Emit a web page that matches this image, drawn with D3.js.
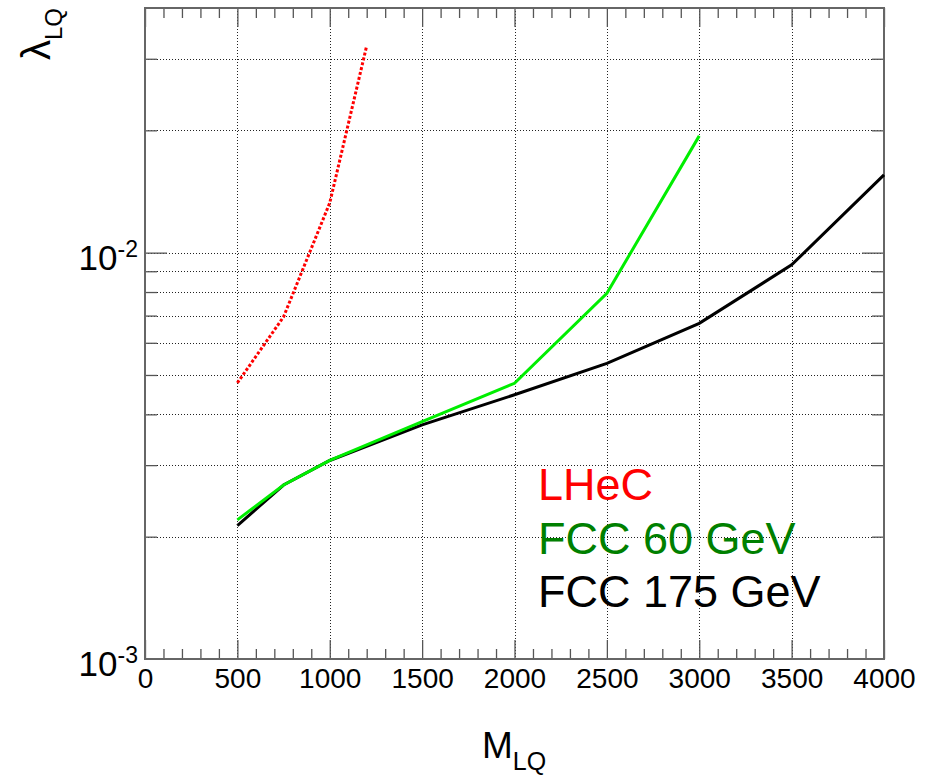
<!DOCTYPE html>
<html>
<head>
<meta charset="utf-8">
<script src="https://cdn.jsdelivr.net/npm/d3@7"></script>
<style>
  body { margin: 0; background: #fff; }
  svg { font-family: "Liberation Sans", Arial, sans-serif; }
</style>
</head>
<body>
<script>
// Størrelse på SVG
const w = 935;
const h = 776;

// Data
const massLHeC = [500, 750, 1000, 1200];
const lambdaLHeC = [0.00478, 0.00695, 0.01326, 0.0323];

const mass60 = [500, 750, 1000, 1500, 2000, 2500, 3000];
const lambda60 = [0.0022, 0.00268, 0.00308, 0.00384, 0.00477, 0.00794, 0.01938];

const mass175 = [500, 750, 1000, 1500, 2000, 2500, 3000, 3500, 4000];
const lambda175 = [0.00213, 0.00268, 0.00308, 0.00377, 0.00447, 0.00534, 0.0067, 0.00933, 0.01554];

const xTicks = [0, 500, 1000, 1500, 2000, 2500, 3000, 3500, 4000];
const yLabels = [
  { v: 0.01, base: "10", exp: "-2" },
  { v: 0.001, base: "10", exp: "-3" },
];
const legendNames = ["LHeC", "FCC 60 GeV", "FCC 175 GeV"];

// Plot-område
const pLeft = 145, pRight = 884, pTop = 8, pBottom = 659;

const svg = d3.select("body").append("svg").attr("width", w).attr("height", h);

const xScale = d3.scaleLinear().domain([0, 4000]).range([pLeft, pRight]);
const yScale = d3.scaleLog().domain([0.001, 0.04]).range([pBottom, pTop]);

// minor ticks
const xMinor = d3.range(0, 4001, 100).filter(d => d % 500 !== 0);
const yMinor = [];
[0.001, 0.01].forEach(dec => {
  for (let k = 2; k <= 9; k++) {
    const v = dec * k;
    if (v < 0.04) yMinor.push(v);
  }
});
const yGrid = yMinor.concat([0.01]);

// Gitter (prikket)
const grid = svg.append("g")
  .attr("stroke", "#222")
  .attr("stroke-width", 1)
  .attr("stroke-dasharray", "1,2");

grid.selectAll("line.vx")
  .data(xTicks.filter(d => d > 0 && d < 4000))
  .enter().append("line")
  .attr("x1", d => Math.round(xScale(d)) + 0.5)
  .attr("x2", d => Math.round(xScale(d)) + 0.5)
  .attr("y1", pTop)
  .attr("y2", pBottom);

grid.selectAll("line.hy")
  .data(yGrid)
  .enter().append("line")
  .attr("y1", d => Math.round(yScale(d)) + 0.5)
  .attr("y2", d => Math.round(yScale(d)) + 0.5)
  .attr("x1", pLeft)
  .attr("x2", pRight);

// Akser med ticks indad, som i ROOT
const tickColor = "#555";
function styleAxis(g) {
  g.select(".domain").remove();
  g.selectAll(".tick line").attr("stroke", tickColor).attr("stroke-width", 1.3);
}

svg.append("g")
  .attr("transform", "translate(0," + pBottom + ")")
  .call(d3.axisBottom(xScale).tickValues(xTicks).tickSize(-19).tickPadding(9).tickFormat(d3.format("d")))
  .call(styleAxis)
  .call(g => g.selectAll(".tick text")
    .attr("font-size", 28)
    .attr("font-family", "Liberation Sans, Arial, sans-serif")
    .attr("fill", "#000"));

svg.append("g")
  .attr("transform", "translate(0," + pBottom + ")")
  .call(d3.axisBottom(xScale).tickValues(xMinor).tickSize(-10).tickFormat(""))
  .call(styleAxis);

svg.append("g")
  .attr("transform", "translate(0," + pTop + ")")
  .call(d3.axisTop(xScale).tickValues(xTicks).tickSize(-19).tickFormat(""))
  .call(styleAxis);

svg.append("g")
  .attr("transform", "translate(0," + pTop + ")")
  .call(d3.axisTop(xScale).tickValues(xMinor).tickSize(-10).tickFormat(""))
  .call(styleAxis);

svg.append("g")
  .attr("transform", "translate(" + pLeft + ",0)")
  .call(d3.axisLeft(yScale).tickValues([0.01]).tickSize(-22).tickFormat(""))
  .call(styleAxis);

svg.append("g")
  .attr("transform", "translate(" + pLeft + ",0)")
  .call(d3.axisLeft(yScale).tickValues(yMinor).tickSize(-12).tickFormat(""))
  .call(styleAxis);

svg.append("g")
  .attr("transform", "translate(" + pRight + ",0)")
  .call(d3.axisRight(yScale).tickValues([0.01]).tickSize(-22).tickFormat(""))
  .call(styleAxis);

svg.append("g")
  .attr("transform", "translate(" + pRight + ",0)")
  .call(d3.axisRight(yScale).tickValues(yMinor).tickSize(-12).tickFormat(""))
  .call(styleAxis);

// Ramme
svg.append("rect")
  .attr("x", pLeft)
  .attr("y", pTop)
  .attr("width", pRight - pLeft)
  .attr("height", pBottom - pTop)
  .attr("fill", "none")
  .attr("stroke", "#666")
  .attr("stroke-width", 2);

// y-labels 10^-2, 10^-3
const yl = svg.selectAll("text.ylab")
  .data(yLabels)
  .enter().append("text")
  .attr("class", "ylab")
  .attr("text-anchor", "end")
  .attr("x", pLeft - 7)
  .attr("y", d => yScale(d.v) + 17)
  .attr("font-size", 35);
yl.append("tspan").text(d => d.base);
yl.append("tspan").attr("font-size", 23).attr("dy", -13).text(d => d.exp);

// Linjer
const line = d3.line()
  .x(d => xScale(d[0]))
  .y(d => yScale(d[1]));

svg.append("path")
  .datum(d3.zip(mass175, lambda175))
  .attr("d", line)
  .attr("fill", "none")
  .attr("stroke", "#000")
  .attr("stroke-width", 3);

svg.append("path")
  .datum(d3.zip(mass60, lambda60))
  .attr("d", line)
  .attr("fill", "none")
  .attr("stroke", "#00ee00")
  .attr("stroke-width", 3);

svg.append("path")
  .datum(d3.zip(massLHeC, lambdaLHeC))
  .attr("d", line)
  .attr("fill", "none")
  .attr("stroke", "#ff0000")
  .attr("stroke-width", 3)
  .attr("stroke-dasharray", "3,2");

// Legende
const legendColors = ["#ff0000", "#008000", "#000000"];
svg.selectAll("text.leg")
  .data(legendNames)
  .enter().append("text")
  .attr("class", "leg")
  .attr("x", 538)
  .attr("y", (d, i) => 500 + i * 53.5)
  .attr("font-size", 45)
  .attr("fill", (d, i) => legendColors[i])
  .text(d => d);

// Aksetitler
const xt = svg.append("text")
  .attr("x", 482)
  .attr("y", 758)
  .attr("font-size", 37);
xt.append("tspan").text("M");
xt.append("tspan").attr("font-size", 25).attr("dy", 12).text("LQ");

const yt = svg.append("text")
  .attr("transform", "translate(50,8) rotate(-90)")
  .attr("text-anchor", "end")
  .attr("font-size", 40);
yt.append("tspan").text("λ");
yt.append("tspan").attr("font-size", 24).attr("dy", 12).text("LQ");
</script>
</body>
</html>
